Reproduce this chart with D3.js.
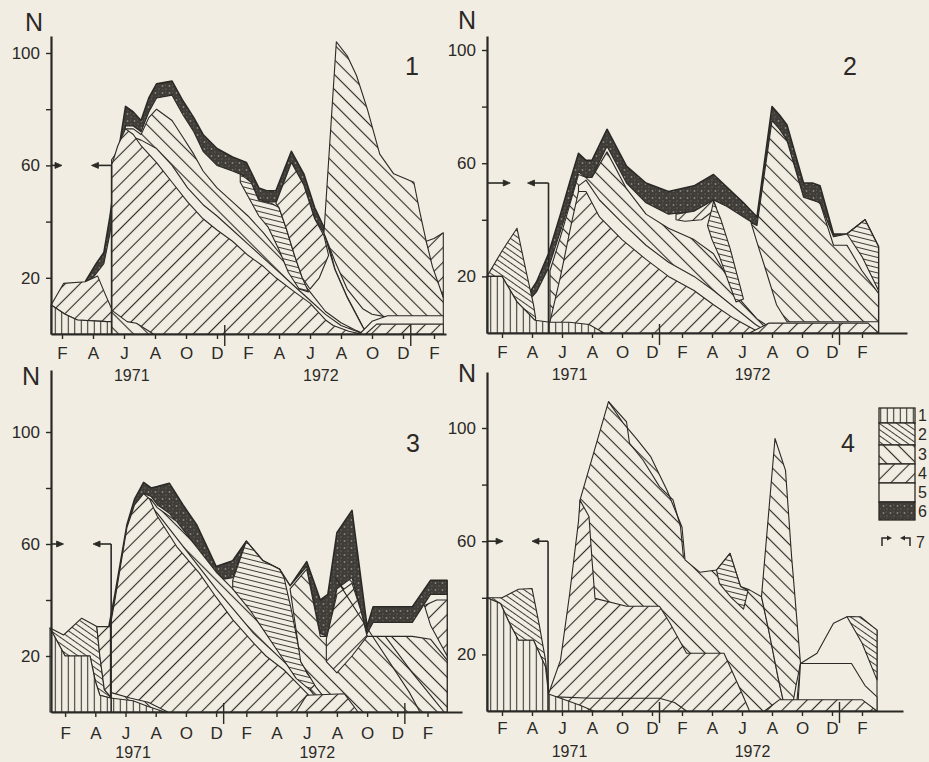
<!DOCTYPE html>
<html>
<head>
<meta charset="utf-8">
<script src="https://d3js.org/d3.v7.min.js"></script>
<style>
  body { margin: 0; background: #f1ede2; }
  svg { display: block; }
  text, .tick text { font-family: 'Liberation Sans', Arial, sans-serif; fill: #2b2926; }
  .tick text { font-size: 17px; }
</style>
</head>
<body>
<svg id="chart" width="929" height="762"></svg>
<script>
// month index: 0 = January 1971, 12 = January 1972, 24 = January 1973
const monthTicks  = [1, 3, 5, 7, 9, 11, 13, 15, 17, 19, 21, 23, 25];
const monthLabels = ["F", "A", "J", "A", "O", "D", "F", "A", "J", "A", "O", "D", "F"];
const yearBreaks  = [11.5, 23.5];
const yearLabels  = ["1971", "1972"];
const yearLabelAt = [5.5, 17.7];
const yTicks      = [20, 40, 60, 80, 100];
const yLabelled   = [20, 60, 100];
const panelNames  = ["1", "2", "3", "4"];
const legendLabels = ["1", "2", "3", "4", "5", "6", "7"];

// bracket (7): level N, arrow tips and end month
const bracketN    = [60, 53, 60, 60];
const bracketTips = [[1.0, 2.9], [1.55, 2.7], [0.9, 2.85], [1.07, 3.0]];
const bracketEnd  = [4.2, 4.1, 4.05, 4.07];

// ---- panel 1 : [month, N] outlines ----
const p1Dark = [[2.5,0],[2.5,18.6],[3.2,25],[3.7,29],[4.1,42],[4.4,55],[4.7,67],[5.1,81],[5.6,79],[6.1,76],[6.6,84],[7.1,89],[8.1,90],[8.8,83],[9.5,77],[10.1,71],[11,66],[12,63],[12.9,61],[13.7,52],[14.2,51],[14.8,51],[15.8,65],[16.6,57],[17.3,45],[17.9,38],[18.6,23],[19.4,13],[20.4,2.5],[20.7,0]];
const p1Pale = [[2.5,0],[2.5,16.5],[3.2,21.5],[3.7,25],[4.1,36],[4.4,49],[4.7,61],[5.1,74],[5.6,74],[6.1,72],[6.6,79],[7.1,84],[8.1,85],[8.8,78],[9.5,72],[10.1,65],[11,60],[12,58],[12.9,56],[13.7,48],[14.2,47],[14.8,47],[15.8,61],[16.6,53],[17.3,41],[17.9,36],[18.6,23],[19.4,13],[20.4,2.5],[20.7,0]];
const p1Back = [[4.2,0],[4.2,62],[4.7,66],[5.1,73],[5.6,73],[6.1,71],[6.6,77],[7.1,80],[8.1,76],[8.8,70],[9.5,64],[10.1,58],[11,52],[12,47],[13,42],[14,36],[15,29],[16,22],[17,15],[18,8],[19,4],[20,1.2],[20.5,0]];
const p1Gap  = [[5.6,0],[5.6,70],[6.1,69],[7.1,66],[8.1,60],[9.1,52],[10.1,46],[11,42],[12,37],[13,32],[14,27],[15,22],[16,17],[17,12],[18,7],[19,3],[20,1],[20.4,0]];
const p1Fwd  = [[4.2,0],[4.2,60],[4.6,67],[5.1,73],[5.6,71],[6.1,67],[7.1,61],[8.1,54],[9.1,47],[10.1,41],[11,37],[12,33],[13,28],[14,24],[14.8,20],[16,15],[17,11],[18,5],[18.5,3],[19.5,1],[20.3,0]];
const p1Hump = [[4.2,0],[4.2,8.5],[5.2,4.4],[5.8,3.8],[6.9,0]];
const p1Band72 = [[12.5,57],[13.2,54],[13.7,47.5],[14.5,46.5],[15,45],[15.5,37],[16,28],[16.5,20],[16.9,15],[16.3,16],[15.6,22],[15,30],[14.3,38],[13.7,42],[13,49],[12.5,54]];
const p1Aug72 = [[14.8,46.5],[15.8,61],[16.6,53],[17.3,41],[17.9,35],[18.2,28],[17.6,20],[17,16],[16.5,20],[16,28],[15.5,37],[15,45]];
const p1Peak = [[17.9,36],[18.7,104],[19.4,99],[20,92],[20.7,80],[21.5,64],[22.4,57],[23.7,54],[24.1,43],[24.5,33],[25.6,13],[25.6,6],[22,6],[21,7],[20.4,9],[19.4,16],[18.6,26]];
const p1Tail = [[24.5,33],[25,34],[25.6,36],[25.6,13],[24.9,24]];
const p1Low72a = [[20.2,0],[21,4.5],[22,6.5],[25.6,6.5],[25.6,0]];
const p1Low72b = [[20.6,0],[21.3,3.5],[25.6,3.5],[25.6,0]];
const p1Ow4 = [[0.3,10.3],[1.1,18],[2.5,18.6],[3.3,20.6],[3.8,14],[4.2,9],[4.2,4.4],[3.9,4.4],[2,5],[1.2,7]];
const p1Ow1 = [[0.3,0],[0.3,10.3],[1.2,7],[2,5],[3.9,4.4],[4.2,4.4],[4.2,0]];

// ---- panel 2 ----
const p2Dark = [[2.8,0],[2.8,14],[3.3,18],[4.1,28],[4.9,42],[5.5,53],[6.1,63.5],[6.6,61],[7,61],[8,72],[9.3,59],[10.6,53],[12.1,50],[13.8,52],[15.1,56],[15.9,52],[17.1,46],[18,41],[19,80],[19.5,77],[20,73.5],[21.1,53],[21.7,53],[22.2,52],[23.1,35],[24,35],[25.2,40],[26.1,30.5],[26.1,0]];
const p2Pale = [[2.8,0],[2.8,11.5],[3.3,14.5],[4.1,23],[4.9,36],[5.5,46],[6.1,57],[6.6,55],[7,55],[8,66],[9.3,53],[10.6,46],[12.1,42],[13.8,43],[15.1,47],[15.9,45],[17.1,41],[18,38],[19,75],[19.5,72],[20,68],[21.1,48],[22.2,46],[23.1,34],[24,35],[25.2,40],[26.1,30.5],[26.1,0]];
const p2Back = [[4.2,0],[4.2,22],[4.9,34],[5.5,45],[6.1,56],[6.6,55],[7,55],[8,64],[9.3,51],[10.6,42],[12.1,37],[13.8,33],[15.1,28],[16,20],[17,11],[18,5],[19,1.5],[19.6,0]];
const p2Gap  = [[6.1,0],[6.1,52],[6.6,54],[7.5,47],[9,39],[10.6,31],[12.1,25],[13.8,20],[15.1,15],[16.5,9],[17.9,3],[18.8,0]];
const p2Fwd  = [[4.2,0],[4.2,4],[4.9,20],[5.6,38],[6.1,50],[6.6,50],[7.5,41],[9,33],[10.6,26],[12.1,20],[13.8,15],[15.1,10],[16.5,5],[17.9,1],[18.5,0]];
const p2Fwd72 = [[12.6,42],[13.8,43],[15.1,47],[15.3,44],[14.3,40],[13.2,39.5],[12.6,40]];
const p2Band72 = [[15.1,46.5],[15.6,40],[16.2,30],[16.7,20],[17.1,12],[16.6,11],[16.1,18],[15.5,27],[15,33],[14.7,38],[15,44]];
const p2Peak = [[17.6,39],[18,38],[19,75],[19.5,72],[20,68],[21.1,48],[22.2,46],[23.1,31],[24,31],[25,22],[26.1,14],[26.1,4],[20,4],[19.3,10],[18.6,22],[18,32]];
const p2Tail = [[24,35],[25.2,40],[26.1,30.5],[26.1,15],[25,27]];
const p2Low72 = [[17.5,0],[18.8,3.5],[25.4,3.5],[26.1,0]];
const p2Ow2 = [[0,20],[1,29],[2,37],[2.6,22],[3.1,10],[3.25,5],[3.2,4.5],[2,11],[1,20]];
const p2Ow1 = [[0,0],[0,20],[1,20],[2,11],[3.2,4.5],[4.2,3.8],[5.5,3.8],[6.8,3],[7.8,0]];

// ---- panel 3 ----
const p3Dark = [[3.1,0],[3.1,30],[3.9,30.5],[4.3,42],[5.1,67],[5.6,76],[6.2,82],[6.7,80],[7.1,80.5],[7.9,81.7],[8.8,74],[9.7,67],[10.4,59],[11,52],[12.1,54],[13,61],[14.1,54],[15.2,51],[15.9,45],[17,53.7],[17.9,40],[18.4,42],[19,64],[20,72],[21,30.5],[21.4,37.6],[24,37.6],[25.2,47],[26.3,47],[26.3,0]];
const p3Pale = [[3.1,0],[3.1,28],[3.9,28],[4.3,38],[5.1,63],[5.6,72],[6.2,78],[6.7,77],[7.1,74],[7.9,71],[8.8,65],[9.7,58],[10.4,52],[11,47],[12.1,48],[13,61],[14.1,54],[15.2,51],[15.9,45],[17,52],[17.9,28],[18.4,27],[19,44],[20,48],[21,28],[21.4,32],[24,32],[25.2,42],[26.3,42],[26.3,0]];
const p3Back = [[4,0],[4,32],[4.3,38],[5.1,62],[5.6,71],[6.2,77],[6.7,76],[7.1,73],[8.4,68],[9.7,59],[11,50],[12.1,44],[13.5,37],[14.5,31],[15.5,24],[16.5,17],[17.5,10],[18.5,4],[19.3,0]];
const p3Gap  = [[6.6,0],[6.6,74],[7.1,71],[8.4,62],[9.7,53],[11,44],[12.1,37],[13.5,28],[14.5,23],[15.5,18],[16.6,12],[17.5,6],[18.5,2],[19,0]];
const p3Fwd  = [[4,0],[4,31],[4.3,40],[5.1,66],[5.6,74],[6.2,78],[6.6,76],[7.1,70],[8.4,59],[9.9,49.5],[11,41],[12.1,33],[13.5,24.5],[14.3,20],[15.5,15],[16.6,9],[17.5,4],[18.8,0]];
const p3Hump = [[4,0],[4,7],[5.3,5],[6.5,3.5],[7.8,0]];
const p3Band72 = [[12.1,47],[13,61],[14.1,54],[15.2,51],[15.5,48],[16,36],[16.5,22],[17,14],[17.6,10],[17.2,8],[16.3,12],[15.3,20],[14.3,28],[13.3,36],[12.1,44]];
const p3New  = [[15.9,44],[17,51],[17.9,27],[18.4,27],[19,44],[20,48],[21,27],[24,27],[25.2,26],[26.3,18.5],[26.3,0],[19.5,0],[18.5,3],[17.6,9],[16.6,18]];
const p3Aug72 = [[18.3,26],[19,42],[20,46],[20.6,36],[21,27],[20,20],[19,14],[18.3,18]];
const p3Tail = [[24.8,38],[25.6,40],[26.3,40],[26.3,20],[25.8,25],[25.2,31]];
const p3Low72 = [[16.3,0],[17,6],[19.5,6.5],[20.4,0]];
const p3LineA = [[18.9,48],[21,30],[23.8,7],[24.5,0]];
const p3LineB = [[22.2,27],[24,14],[25.5,4],[26.1,0]];
const p3Ow2 = [[0,30],[0.9,27.5],[2.1,33.5],[3.1,30.5],[3.3,20],[3.6,8],[4,5.5],[4,5],[3.3,6],[3,11],[2.65,20],[1,20]];
const p3Ow4 = [[3.1,30.5],[4,30.5],[4,5.5],[3.6,8],[3.3,20]];
const p3Ow1 = [[0,0],[0,30],[1,20],[2.65,20],[3,11],[3.3,6],[4,5],[5.5,4],[6.5,2],[7.6,0]];

// ---- panel 4 ----
const p4Peak = [[6.2,0],[6.2,74.5],[8.1,109.3],[9.1,101.6],[10,96],[10.9,90],[12,78],[13,65],[13.2,53.4],[14.2,49],[15.3,49.8],[16.2,55.7],[16.9,44],[17.5,42.8],[18.3,40.4],[18.8,28],[19.4,12],[19.9,0]];
const p4Spike = [[18.3,40.4],[19.2,96.3],[19.9,85],[20.3,55],[20.9,16.8],[20.6,9],[20.3,0],[19.9,0],[19.4,12],[18.8,28]];
const p4Fwd  = [[4.1,0],[4.1,6],[4.9,18],[5.5,41],[6.1,67],[6.2,74.5],[6.8,68.7],[7.0,53.4],[7.2,39.8],[9.3,37],[11.5,37],[12.2,31],[13.3,20.4],[15.8,20.4],[16.9,7.4],[17.5,0]];
const p4Ridge = [[8.1,109.3],[9.3,102.2],[9.5,94.6],[10.4,88.7],[11.5,79.3],[12.4,74.6],[12.9,65.1],[13.1,54]];
const p4Box  = [[15.3,49.8],[16.2,55.7],[16.9,44],[17.4,42.5],[17.1,36],[16.3,40],[15.5,45]];
const p4After = [[20.6,0],[20.9,16.8],[22,20.4],[23.1,31],[24,33.3],[24.5,33.3],[26,28.6],[26,0]];
const p4AfterLow = [[20.7,0],[20.9,16.8],[24.3,16.8],[25.2,9],[26,5],[26,0]];
const p4Tail = [[24,33.3],[24.9,33.3],[26,28.6],[26,11],[25,24]];
const p4Low72 = [[18.5,0],[19.5,4],[25,4],[26,0]];
const p4Low71 = [[4.1,0],[4.6,5],[7,4.5],[11.5,4.5],[12.5,3],[13.3,0]];
const p4Ow2 = [[0,40],[1,40],[2.1,43],[3,43.3],[3.5,30],[3.9,18],[4.1,8],[4.1,6],[3.9,15.6],[3.1,25],[2.1,25],[1.5,31],[0.9,38]];
const p4Ow1 = [[0,0],[0,40],[0.9,38],[1.5,31],[2.1,25],[3.1,25],[3.9,15.6],[4.1,6],[5,4.3],[6.2,2],[7.1,0]];

const ink = "#2b2926", paper = "#f1ede2";

// layout of the four panels (pixel frame)
const panels = [
  { x0: 46.5, dx: 15.5, ax: [51, 446], y0: 334, dy: 2.81, yTop: 36,
    nPos: [34, 22], numPos: [412, 66], mPad: 8, yearDy: 41,
    shapes: [[p1Dark,"dark"],[p1Pale,"pale"],[p1Back,"back"],[p1Gap,"pale"],[p1Fwd,"fwd"],[p1Hump,"back"],
             [p1Band72,"hz"],[p1Aug72,"fwd"],[p1Peak,"back"],[p1Tail,"fwd"],[p1Low72a,"pale"],[p1Low72b,"fwd"],
             [p1Ow4,"fwd"],[p1Ow1,"vert"]],
    lines: [] },
  { x0: 487, dx: 15, ax: [487, 907], y0: 333, dy: 2.83, yTop: 36,
    nPos: [467, 20], numPos: [850, 66], mPad: 8, yearDy: 41,
    shapes: [[p2Dark,"dark"],[p2Pale,"pale"],[p2Back,"back"],[p2Gap,"pale"],[p2Fwd,"fwd"],
             [p2Fwd72,"fwd"],[p2Band72,"hz"],[p2Peak,"back"],[p2Tail,"hz"],[p2Low72,"fwd"],
             [p2Ow2,"dense"],[p2Ow1,"vert"]],
    lines: [] },
  { x0: 50, dx: 15.1, ax: [51, 462], y0: 712, dy: 2.8, yTop: 370,
    nPos: [31, 376], numPos: [413, 443], mPad: 10, yearDy: 40,
    shapes: [[p3Dark,"dark"],[p3Pale,"pale"],[p3Back,"back"],[p3Gap,"pale"],[p3Fwd,"fwd"],[p3Hump,"back"],
             [p3Band72,"hz"],[p3New,"back"],[p3Aug72,"fwd"],[p3Tail,"fwd"],[p3Low72,"fwd"],
             [p3Ow2,"dense"],[p3Ow4,"fwd"],[p3Ow1,"vert"]],
    lines: [p3LineA, p3LineB] },
  { x0: 487, dx: 15, ax: [487, 903], y0: 711, dy: 2.83, yTop: 372,
    nPos: [467, 373], numPos: [848, 443], mPad: 6, yearDy: 40,
    shapes: [[p4Peak,"back"],[p4Spike,"back"],[p4Fwd,"fwd"],[p4Box,"hz"],[p4After,"pale"],[p4AfterLow,"pale"],
             [p4Tail,"dense"],[p4Low72,"fwd"],[p4Low71,"fwd"],[p4Ow2,"dense"],[p4Ow1,"vert"]],
    lines: [p4Ridge] }
];

const svg = d3.select("#chart");
svg.append("rect").attr("width", 929).attr("height", 762).attr("fill", paper);
const defs = svg.append("defs");

function addHatch(id, angle, gap, sw) {
  const p = defs.append("pattern").attr("id", id)
    .attr("patternUnits", "userSpaceOnUse")
    .attr("width", gap).attr("height", gap)
    .attr("patternTransform", `rotate(${angle})`);
  p.append("rect").attr("width", gap).attr("height", gap).attr("fill", paper);
  p.append("line").attr("x1", 0).attr("x2", gap).attr("y1", gap / 2).attr("y2", gap / 2)
    .attr("stroke", ink).attr("stroke-width", sw);
}
addHatch("vert", 90, 6.5, 1);
addHatch("dense", 35, 5, 0.9);
addHatch("hz", 14, 5, 0.9);
addHatch("back", 45, 10.5, 1.1);
addHatch("fwd", -45, 10.5, 1.1);

// mottled dark band
const dk = defs.append("pattern").attr("id", "dark").attr("patternUnits", "userSpaceOnUse")
  .attr("width", 7).attr("height", 7);
dk.append("rect").attr("width", 7).attr("height", 7).attr("fill", "#403d39");
[[1.5, 2, 0.9, "#8a857c"], [5, 5, 0.7, "#6e6a63"], [4.5, 1, 0.5, "#77736b"], [2, 5.5, 0.5, "#5c5852"]]
  .forEach(c => dk.append("circle").attr("cx", c[0]).attr("cy", c[1]).attr("r", c[2]).attr("fill", c[3]));

const fillOf = p => p === "pale" ? paper : `url(#${p})`;

panels.forEach((P, pi) => {
  const x = d3.scaleLinear()
    .domain([(P.ax[0] - P.x0) / P.dx, (P.ax[1] - P.x0) / P.dx])
    .range(P.ax);
  const y = d3.scaleLinear().domain([0, (P.y0 - P.yTop) / P.dy]).range([P.y0, P.yTop]);
  const line = d3.line().x(d => x(d[0])).y(d => y(d[1]));
  const g = svg.append("g");

  // hatched areas, painted in order
  g.selectAll("path.area")
    .data(P.shapes)
    .join("path")
    .attr("class", "area")
    .attr("d", d => line(d[0]) + "Z")
    .attr("fill", d => fillOf(d[1]))
    .attr("stroke", ink)
    .attr("stroke-width", d => d[1] === "dark" ? 1.6 : 1.1)
    .attr("stroke-linejoin", "round");

  g.selectAll("path.extra")
    .data(P.lines)
    .join("path")
    .attr("class", "extra")
    .attr("d", line)
    .attr("fill", "none")
    .attr("stroke", ink)
    .attr("stroke-width", 1.1);

  // bracket 7
  const yb = y(bracketN[pi]);
  const t1 = x(bracketTips[pi][0]), t2 = x(bracketTips[pi][1]), xe = x(bracketEnd[pi]);
  const br = g.append("g").attr("stroke", ink).attr("stroke-width", 1.6).attr("fill", ink);
  br.append("line").attr("x1", P.ax[0]).attr("x2", t1 - 5).attr("y1", yb).attr("y2", yb);
  br.append("path").attr("d", `M${t1},${yb}L${t1 - 7},${yb - 3}L${t1 - 7},${yb + 3}Z`).attr("stroke-width", 0.8);
  br.append("line").attr("x1", xe).attr("x2", t2 + 5).attr("y1", yb).attr("y2", yb);
  br.append("path").attr("d", `M${t2},${yb}L${t2 + 7},${yb - 3}L${t2 + 7},${yb + 3}Z`).attr("stroke-width", 0.8);
  br.append("line").attr("x1", xe).attr("x2", xe).attr("y1", yb).attr("y2", y(0));

  // axes
  const gy = g.append("g").attr("transform", `translate(${P.ax[0]},0)`)
    .call(d3.axisLeft(y).tickValues(yTicks).tickSize(5).tickSizeOuter(0).tickPadding(6)
      .tickFormat(d => yLabelled.includes(d) ? d : ""));
  const gx = g.append("g").attr("transform", `translate(0,${P.y0})`)
    .call(d3.axisBottom(x).tickValues(monthTicks).tickSize(5).tickSizeOuter(0).tickPadding(P.mPad)
      .tickFormat((d, i) => monthLabels[i]));
  [gy, gx].forEach(a => {
    a.select(".domain").attr("stroke", ink).attr("stroke-width", 2.2);
    a.selectAll(".tick line").attr("stroke", ink).attr("stroke-width", 1.4);
  });

  g.selectAll("line.year")
    .data(yearBreaks)
    .join("line")
    .attr("class", "year")
    .attr("x1", d => x(d)).attr("x2", d => x(d))
    .attr("y1", P.y0 - 9).attr("y2", P.y0 + 12)
    .attr("stroke", ink).attr("stroke-width", 1.4);

  g.selectAll("text.yr")
    .data(yearLabels)
    .join("text")
    .attr("class", "yr")
    .attr("x", (d, i) => x(yearLabelAt[i]))
    .attr("y", P.y0 + P.yearDy)
    .attr("text-anchor", "middle")
    .attr("dominant-baseline", "central")
    .attr("font-size", 16)
    .text(d => d);

  g.append("text").attr("x", P.nPos[0]).attr("y", P.nPos[1])
    .attr("text-anchor", "middle").attr("dominant-baseline", "central")
    .attr("font-size", 25).text("N");
  g.append("text").attr("x", P.numPos[0]).attr("y", P.numPos[1])
    .attr("text-anchor", "middle").attr("dominant-baseline", "central")
    .attr("font-size", 25).text(panelNames[pi]);
});

// legend
const legendRows = [["vert", 408, 423], ["dense", 423, 445], ["back", 445, 464], ["fwd", 464, 483], ["pale", 483, 502], ["dark", 502, 520]];
const lg = svg.append("g");
legendRows.forEach((r, i) => {
  lg.append("rect").attr("x", 879).attr("y", r[1]).attr("width", 36).attr("height", r[2] - r[1])
    .attr("fill", fillOf(r[0])).attr("stroke", ink).attr("stroke-width", 1.3);
  lg.append("text").attr("x", 918).attr("y", (r[1] + r[2]) / 2).attr("dominant-baseline", "central")
    .attr("font-size", 16).text(legendLabels[i]);
});
lg.append("path").attr("d", "M882,546V538H889M903,538H910V546")
  .attr("fill", "none").attr("stroke", ink).attr("stroke-width", 1.5);
lg.append("path").attr("d", "M892,538L887,535.5L887,540.5Z M900,538L905,535.5L905,540.5Z").attr("fill", ink);
lg.append("text").attr("x", 916).attr("y", 542).attr("dominant-baseline", "central")
  .attr("font-size", 16).text(legendLabels[6]);
</script>
</body>
</html>
